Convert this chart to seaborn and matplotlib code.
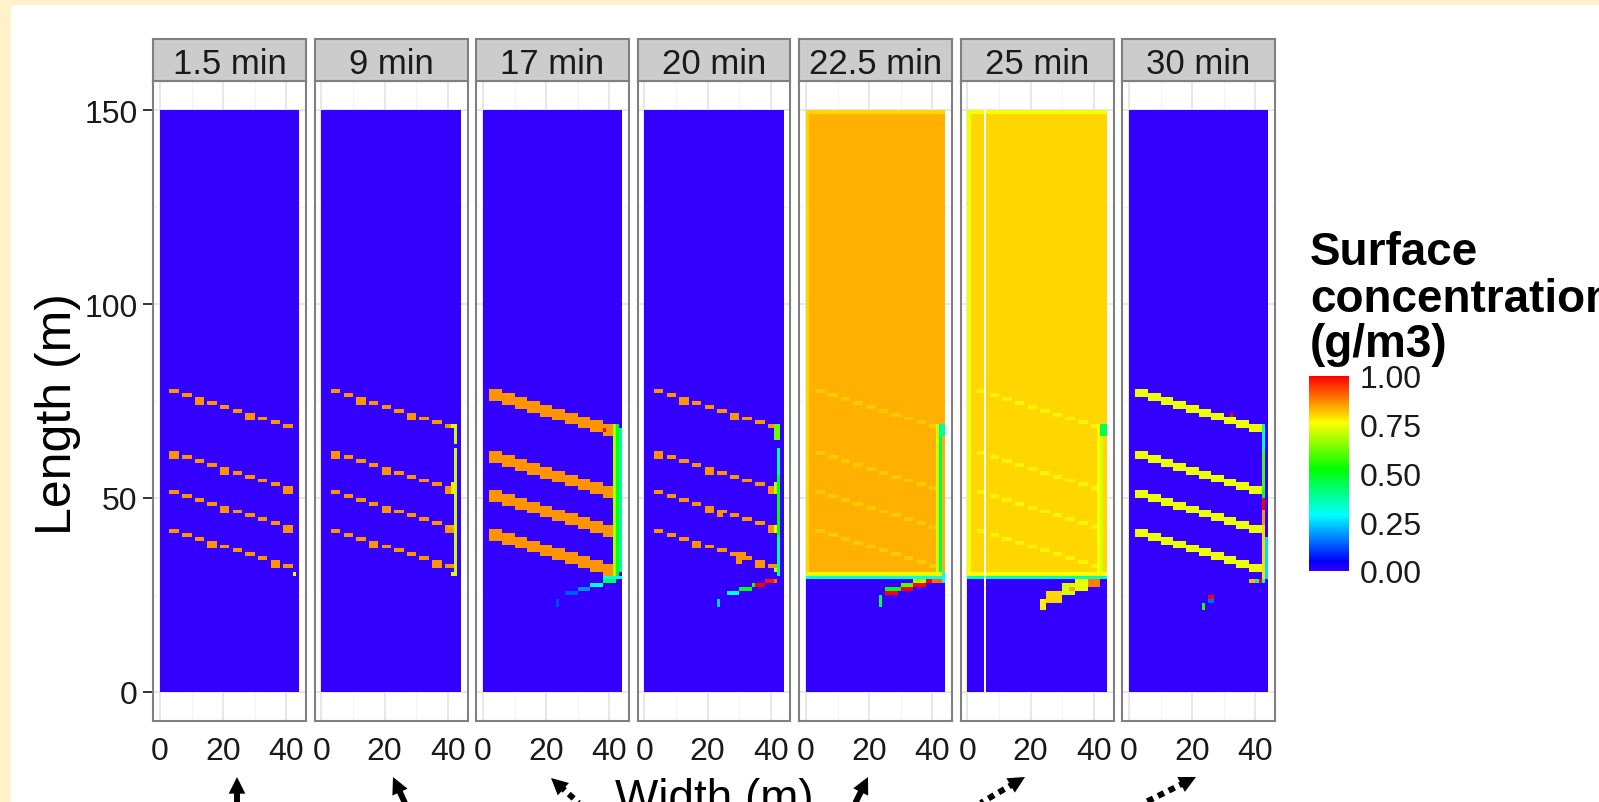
import numpy as np
import matplotlib
matplotlib.use("Agg")
import matplotlib.pyplot as plt
from matplotlib.colors import ListedColormap, hsv_to_rgb
from matplotlib.patches import Rectangle, FancyArrowPatch
from matplotlib.lines import Line2D
import seaborn as sns

sns.set_style("white")
plt.rcParams['font.family'] = ['Liberation Sans', 'DejaVu Sans']

# ---------------- data ----------------
panel_labels = ["1.5 min", "9 min", "17 min", "20 min", "22.5 min", "25 min", "30 min"]
width_m = 44
length_m = 150
x_ticks = [0, 20, 40]
y_ticks = [0, 50, 100, 150]
cbar_ticks = [0.0, 0.25, 0.5, 0.75, 1.0]
cbar_labels = ["0.00", "0.25", "0.50", "0.75", "1.00"]

# flooded zone above the front (rows y >= 31 m)
upper_conc = [0, 0, 0, 0, 0.833, 0.798, 0]
upper_edge_conc = [None, None, None, None, 0.80, 0.75, None]
front_rows_conc = [None, None, None, None, (0.30, 0.74), (0.35, 0.76), None]  # rows y=29, y=30

# diagonal furrows
stripe_y_left = [77, 61, 51, 41]    # at x = 4 m
stripe_y_right = [68, 52, 42, 32]   # at x = 40 m
dash_centres = [4, 8, 12, 16, 20, 24, 28, 32, 36, 40]
tall_dashes = [(0, 2), (0, 6), (1, 0), (1, 4), (1, 9), (2, 4), (2, 9), (3, 3), (3, 8)]
stripe_conc = [0.86, 0.86, 0.86, 0.86, 0.81, 0.77, 0.746]
stripe_rows = [1, 1, 3, 1, 1, 1, 2]
stripe_step = [3, 3, 4, 3, 3, 3, 4]

# drain and plume cells: (x0, x1, y0, y1, concentration)
cells_1_5 = [(42, 43, 30, 31, 0.75)]
cells_9 = [(42, 43, 31, 63, 0.71), (42, 43, 64, 69, 0.71), (41, 43, 68, 69, 0.72),
           (41, 43, 30, 31, 0.72), (41, 42, 51, 54, 0.78), (40, 42, 42, 43, 0.84)]
cells_17 = [(41, 42, 30, 69, 0.68), (42, 43, 30, 69, 0.50), (43, 44, 31, 68, 0.38),
            (38, 39, 67, 68, 1.0),
            (38, 44, 29, 30, 0.30), (38, 42, 28, 29, 0.45), (34, 38, 27, 28, 0.30),
            (30, 34, 26, 27, 0.18), (26, 30, 25, 26, 0.13), (23, 24, 22, 24, 0.12)]
cells_20 = [(41, 43, 65, 69, 0.62), (42, 43, 30, 63, 0.38), (42, 43, 40, 56, 0.50),
            (41, 42, 51, 54, 0.70), (41, 42, 41, 43, 0.75), (41, 42, 31, 32, 0.70),
            (23, 25, 45, 47, 0.86), (27, 32, 35, 36, 0.86), (29, 31, 33, 35, 0.86),
            (38, 42, 28, 29, 0.98), (41, 42, 28, 29, 0.90), (35, 38, 27, 28, 1.0),
            (34, 35, 27, 28, 0.55), (30, 34, 26, 27, 0.50), (26, 30, 25, 26, 0.32),
            (23, 24, 22, 24, 0.25)]
cells_22_5 = [(41, 42, 31, 69, 0.72), (42, 43, 31, 69, 0.45), (42, 44, 66, 69, 0.38),
              (43, 44, 28, 31, 0.30),
              (40, 43, 28, 29, 0.90), (38, 40, 28, 29, 1.0), (34, 38, 28, 29, 0.68),
              (34, 38, 27, 28, 1.0), (30, 34, 27, 28, 0.60), (30, 34, 26, 27, 1.0),
              (25, 30, 26, 27, 0.50), (25, 29, 25, 26, 1.0), (23, 24, 22, 25, 0.45)]
cells_25 = [(42, 43, 31, 69, 0.72), (41, 42, 31, 69, 0.76), (42, 44, 66, 69, 0.45),
            (38, 42, 27, 29, 0.88), (34, 38, 26, 29, 0.74), (30, 34, 25, 28, 0.72),
            (32, 34, 26, 27, 0.84), (25, 30, 23, 26, 0.80), (23, 25, 21, 24, 0.77)]
cells_30 = [(42, 43, 62, 69, 0.35), (42, 43, 52, 62, 0.58), (42, 43, 50, 52, 0.50),
            (42, 43, 47, 50, 1.0), (42, 43, 43, 47, 0.86), (42, 43, 29, 43, 0.80),
            (43, 44, 29, 40, 0.25),
            (38, 40, 28, 29, 0.83), (40, 41, 28, 29, 0.40), (41, 42, 28, 29, 1.0),
            (42, 43, 28, 29, 0.30), (32, 33, 71, 72, 1.0),
            (25, 27, 24, 25, 1.0), (25, 27, 23, 24, 0.15), (23, 24, 21, 23, 0.55)]
panel_cells = [cells_1_5, cells_9, cells_17, cells_20, cells_22_5, cells_25, cells_30]
gap_line_x = {5: 5.6}   # thin unsampled column in the 25 min panel

# annotation arrows below the chart (pixel positions)
arrow_tips = [(237, 778), (393, 778), (551, 779), (868, 778), (1025, 778), (1196, 778)]
arrow_tails = [(237, 815), (410, 815), (592, 816), (850, 815), (962, 815), (1128, 812)]
arrow_dotted = [False, False, True, False, True, True]

# ---------------- helpers ----------------
W, H = 1599, 803


def px_box(x0, y0, x1, y1):
    return [x0 / W, 1 - y1 / H, (x1 - x0) / W, (y1 - y0) / H]


def build_grid(k):
    Z = np.zeros((length_m, width_m))
    if upper_conc[k] > 0:
        Z[31:, :] = upper_conc[k]
    if upper_edge_conc[k] is not None:
        Z[31:, 0] = upper_edge_conc[k]
        Z[length_m - 1, :] = upper_edge_conc[k]
    if front_rows_conc[k] is not None:
        Z[29, :], Z[30, :] = front_rows_conc[k]
    step = stripe_step[k]
    for i, (yl, yr) in enumerate(zip(stripe_y_left, stripe_y_right)):
        for j, c in enumerate(dash_centres):
            yc = yl + (yr - yl) * (c - dash_centres[0]) / (dash_centres[-1] - dash_centres[0])
            r = int(np.floor(yc))
            n = stripe_rows[k]
            if n == 1 and (i, j) in tall_dashes and k in (0, 1, 3):
                n = 2
            c0 = c - step // 2
            Z[r - n + 1:r + 1, c0:c0 + step] = stripe_conc[k]
    for (x0, x1, y0, y1, v) in panel_cells[k]:
        Z[y0:y1, x0:x1] = v
    return Z


hues = 0.7 * (1 - np.linspace(0, 1, 256))
cmap = ListedColormap(hsv_to_rgb(np.stack([hues, np.ones(256), np.ones(256)], axis=1)))

cream = '#FFF2CA'
fig = plt.figure(figsize=(W / 100, H / 100), dpi=100)
fig.patch.set_facecolor(cream)
fig.add_artist(Rectangle((11 / W, 0), 1, (H - 6) / H, transform=fig.transFigure,
                         facecolor='white', edgecolor='none', zorder=-10))

cax = fig.add_axes(px_box(1309, 377, 1349, 572))
ink = '#1a1a1a'

for k, lab in enumerate(panel_labels):
    left = 153 + 161.5 * k
    ax = fig.add_axes(px_box(left, 82, left + 153, 722))
    Z = build_grid(k)
    if k == 0:
        sns.heatmap(Z, ax=ax, cmap=cmap, vmin=0, vmax=1, cbar=True, cbar_ax=cax,
                    cbar_kws={'ticks': cbar_ticks}, xticklabels=False, yticklabels=False)
    else:
        sns.heatmap(Z, ax=ax, cmap=cmap, vmin=0, vmax=1, cbar=False,
                    xticklabels=False, yticklabels=False)
    if k in gap_line_x:
        ax.vlines(gap_line_x[k], 0, length_m, colors='white', lw=1.4, zorder=3)
    ax.set_xlim(-2.2, 46.2)
    ax.set_ylim(-7.5, 157.5)
    ax.set_axisbelow(True)
    ax.set_xticks(x_ticks)
    ax.set_xticklabels([str(t) for t in x_ticks])
    ax.set_xticks([10, 30], minor=True)
    ax.set_yticks(y_ticks)
    ax.set_yticks([25, 75, 125], minor=True)
    ax.grid(True, which='major', color='#E3E3E3', lw=1.2)
    ax.grid(True, which='minor', color='#F4F4F4', lw=0.8)
    ax.tick_params(which='minor', length=0)
    ax.tick_params(axis='x', which='major', length=7, width=1.4, color='#333333',
                   labelsize=23, pad=4, labelcolor=ink)
    if k == 0:
        ax.set_yticklabels([str(t) for t in y_ticks])
        ax.tick_params(axis='y', which='major', length=7, width=1.4, color='#333333',
                       labelsize=23, pad=4, labelcolor=ink, left=True, labelleft=True)
    else:
        ax.tick_params(axis='y', which='major', length=0, labelleft=False)
    for s in ax.spines.values():
        s.set_visible(True)
        s.set_color('#808080')
        s.set_linewidth(1.5)
    ax.set_xlabel('')
    ax.set_ylabel('')

    sax = fig.add_axes(px_box(left, 40, left + 153, 82))
    sax.set_facecolor('#CCCCCC')
    sax.set_xticks([])
    sax.set_yticks([])
    for s in sax.spines.values():
        s.set_color('#808080')
        s.set_linewidth(1.5)
    sax.text(0.5, 0.19, lab, ha='center', va='baseline', fontsize=25, color=ink,
             transform=sax.transAxes)

# colourbar styling
cax.set_yticks(cbar_ticks)
cax.set_yticklabels(cbar_labels)
cax.tick_params(axis='y', direction='in', length=8, width=1.5, color='white',
                left=True, right=True, labelsize=23, pad=8, labelcolor=ink)
for s in cax.spines.values():
    s.set_visible(False)

# legend title
for txt, base in zip(["Surface", "concentration", "(g/m3)"], [265, 312, 357]):
    fig.text(1310 / W, 1 - base / H, txt, ha='left', va='baseline', fontsize=33,
             fontweight='bold', color='black')

# axis titles
fig.text(58 / W, 1 - 414 / H, "Length (m)", rotation=90, ha='center', va='center',
         fontsize=36, color='black')
fig.text(714 / W, 1 - 812 / H, "Width (m)", ha='center', va='baseline', fontsize=33,
         color='black')

# arrows
for tip, tail, dotted in zip(arrow_tips, arrow_tails, arrow_dotted):
    tip = np.array(tip, float)
    tail = np.array(tail, float)
    u = (tail - tip) / np.linalg.norm(tail - tip)
    base = tip + 17 * u
    stem_start = tip + 12 * u
    fig.add_artist(Line2D([stem_start[0] / W, tail[0] / W], [1 - stem_start[1] / H, 1 - tail[1] / H],
                          transform=fig.transFigure, color='black', lw=4.3,
                          linestyle=(0, (1.1, 0.9)) if dotted else '-',
                          solid_capstyle='butt', dash_capstyle='butt'))
    fig.add_artist(FancyArrowPatch(posA=(base[0] / W, 1 - base[1] / H), posB=(tip[0] / W, 1 - tip[1] / H),
                                   transform=fig.transFigure,
                                   arrowstyle='-|>,head_length=0.6,head_width=0.3',
                                   mutation_scale=20, color='black', lw=0,
                                   shrinkA=0, shrinkB=0))

fig.savefig("out.png", dpi=100, facecolor=fig.get_facecolor())
